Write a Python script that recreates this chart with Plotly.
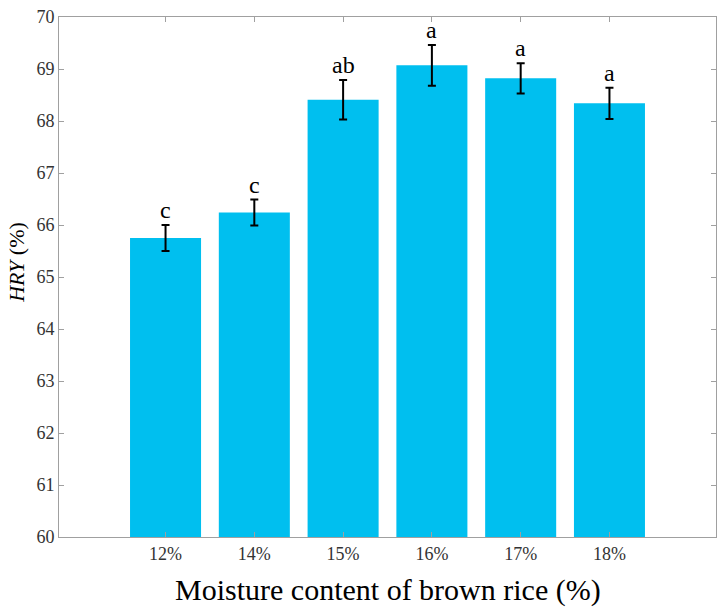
import plotly.graph_objects as go

categories = ["12%", "14%", "15%", "16%", "17%", "18%"]
hry_mean = [65.75, 66.24, 68.41, 69.07, 68.82, 68.34]
hry_err = [0.25, 0.25, 0.38, 0.39, 0.29, 0.30]
sig_letters = ["c", "c", "ab", "a", "a", "a"]
y_ticks = [60, 61, 62, 63, 64, 65, 66, 67, 68, 69, 70]

xpos = list(range(1, len(categories) + 1))
serif = "Liberation Serif, Times New Roman, serif"

fig = go.Figure()
fig.add_trace(go.Bar(
    x=xpos, y=hry_mean, width=0.8,
    marker=dict(color="#00BFEF", line=dict(width=0)),
    error_y=dict(type="data", array=hry_err, visible=True,
                 color="black", thickness=2, width=4),
    showlegend=False,
))

for xp, m, e, lab in zip(xpos, hry_mean, hry_err, sig_letters):
    fig.add_annotation(x=xp, y=m + e, text=lab, showarrow=False,
                       yanchor="bottom", yshift=0,
                       font=dict(family=serif, size=24, color="black"))

axis_common = dict(showline=True, linecolor="#A0A0A0", linewidth=1,
                   mirror="allticks", ticks="inside", ticklen=5,
                   tickcolor="#A0A0A0", showgrid=False, zeroline=False)

fig.update_xaxes(tickvals=xpos, ticktext=categories, range=[-0.2, 7.2],
                 tickfont=dict(family=serif, size=18, color="#333333"),
                 **axis_common)
fig.update_yaxes(tickvals=y_ticks, range=[60, 70],
                 tickfont=dict(family=serif, size=18, color="#333333"),
                 **axis_common)

fig.add_annotation(xref="paper", yref="paper", x=0.5, y=-0.102,
                   text="Moisture content of brown rice (%)", showarrow=False,
                   xanchor="center", yanchor="middle",
                   font=dict(family=serif, size=30, color="black"))
fig.add_annotation(xref="paper", yref="paper", x=-0.064, y=0.529,
                   text="<i>HRY</i> (%)", showarrow=False, textangle=-90,
                   xanchor="center", yanchor="middle",
                   font=dict(family=serif, size=22, color="black"))

fig.update_layout(
    width=724, height=616,
    margin=dict(l=59, r=7, t=13, b=79),
    plot_bgcolor="white", paper_bgcolor="white",
)

fig.write_html("out.html")
